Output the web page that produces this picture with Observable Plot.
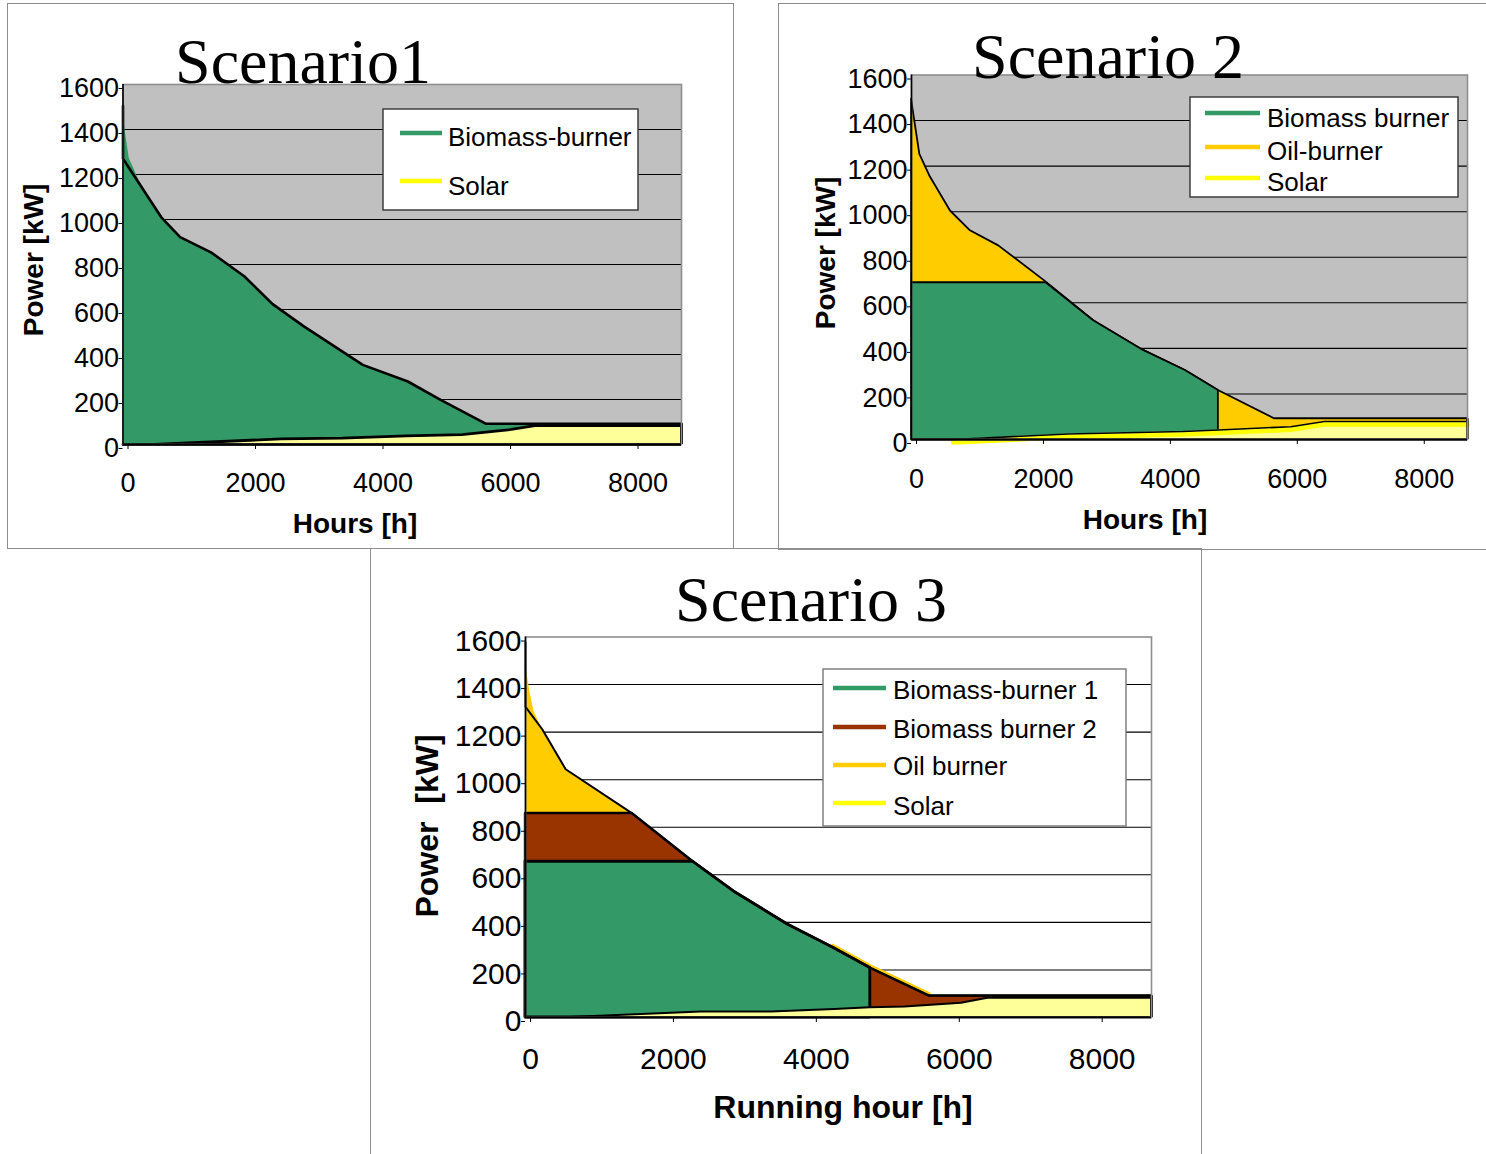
<!DOCTYPE html>
<html><head><meta charset="utf-8">
<script src="https://cdn.jsdelivr.net/npm/d3@7"></script>
<script src="https://cdn.jsdelivr.net/npm/@observablehq/plot@0.6"></script>
<style>
html,body{margin:0;padding:0;background:#fff;}
body{position:relative;width:1486px;height:1154px;overflow:hidden;font-family:"Liberation Sans",Arial,sans-serif;}
.chart{position:absolute;}
.box{position:absolute;box-sizing:border-box;border:1.5px solid #8e8e8e;pointer-events:none;}
#overlay{position:absolute;left:0;top:0;pointer-events:none;}
</style></head><body>
<div class="chart" id="c1" style="left:7px;top:3px"></div>
<div class="chart" id="c2" style="left:778px;top:3px"></div>
<div class="chart" id="c3" style="left:370px;top:549px"></div>
<div class="box" style="left:7px;top:3px;width:727px;height:546px"></div>
<div class="box" style="left:778px;top:3px;width:740px;height:547px"></div>
<div class="box" style="left:370px;top:548px;width:832px;height:640px"></div>
<svg id="overlay" width="1486" height="1154"></svg>
<script>
// ---------- data ----------
const hourTicks = [0, 2000, 4000, 6000, 8000];
const powerTicks = [0, 200, 400, 600, 800, 1000, 1200, 1400, 1600];
const yearHours = 8760;

const titles = ["Scenario1", "Scenario 2", "Scenario 3"];
const yLabels = ["Power [kW]", "Power [kW]", "Power  [kW]"];
const xLabels = ["Hours [h]", "Hours [h]", "Running hour [h]"];

// Scenario 1
const s1DemandHours = [0, 0, 598, 896, 1380, 1901, 2347, 2831, 3761, 4468, 4989, 5695, 8760];
const s1Demand      = [1505, 1270, 1011, 922, 854, 748, 624, 526, 354, 280, 197, 92, 92];
const s1BiomassHours = [0, 30, 100, 250, 598, 896, 1380, 1901, 2347, 2831, 3761, 4468, 4989, 5695, 8760];
const s1Biomass      = [1500, 1400, 1270, 1175, 1011, 922, 854, 748, 624, 526, 354, 280, 197, 92, 92];
const s1SolarHours = [0, 483, 2477, 3438, 4449, 5314, 6039, 6461, 8760];
const s1Solar      = [0, 0, 25, 28, 38, 44, 65, 84, 84];
const s1Legend = ["Biomass-burner", "Solar"];

// Scenario 2
const s2DemandHours = [0, 131, 288, 614, 928, 1374, 2108, 2870, 3654, 4315, 4835, 5717, 8760];
const s2Demand      = [1494, 1252, 1157, 1003, 916, 850, 694, 521, 391, 303, 215, 91, 91];
const s2BiomassHours = [0, 2120, 2870, 3654, 4315, 4835, 4835];
const s2Biomass      = [688, 688, 521, 391, 303, 215, 0];
const s2SolarHours = [0, 655, 2468, 4280, 4835, 5977, 6503, 8760];
const s2Solar      = [0, 0, 24, 35, 42, 56, 79, 79];
const s2Legend = ["Biomass burner", "Oil-burner", "Solar"];

// Scenario 3
const s3DemandHours = [0, 0, 234, 562, 1493, 2341, 2916, 3664, 4300, 4825, 5648, 8760];
const s3Demand      = [1578, 1306, 1212, 1044, 858, 656, 530, 392, 294, 208, 91, 91];
const s3OilHours = [0, 60, 117, 234, 562, 1493, 2341, 2916, 3664, 4300, 4825, 5648, 8760];
const s3Oil      = [1486, 1373, 1289, 1212, 1044, 858, 656, 530, 392, 294, 208, 91, 91];
const s3Biomass2Hours = [0, 1493, 2341, 2916, 3664, 4300, 4825, 5648, 8760];
const s3Biomass2      = [858, 858, 656, 530, 392, 294, 208, 91, 91];
const s3Biomass1Hours = [0, 2341, 2916, 3664, 4300, 4825, 4825];
const s3Biomass1      = [655, 655, 530, 392, 294, 208, 0];
const s3SolarHours = [0, 620, 2460, 3440, 4330, 4825, 5311, 6100, 6470, 8760];
const s3Solar      = [0, 0, 23, 23, 34, 41, 44, 60, 81, 81];
const s3Legend = ["Biomass-burner 1", "Biomass burner 2", "Oil burner", "Solar"];

// ---------- colours ----------
const GREEN = "#339966", OIL = "#FFCC00", BROWN = "#993300", SOLAR_FILL = "#FFFF99", SOLAR_LINE = "#FFFF00", GREYBG = "#C0C0C0";

const series = (hours, values) => hours.map((h, i) => ({h, v: values[i]}));

function panel(o) {
  return Plot.plot({
    width: o.width, height: o.height,
    marginLeft: o.ml, marginRight: o.mr, marginTop: o.mt, marginBottom: o.mb,
    x: {domain: [0, yearHours], axis: null},
    y: {domain: [0, 1600], axis: null},
    style: {fontFamily: "'Liberation Sans', Arial, sans-serif", fontSize: o.font + "px", color: "#000", background: "transparent", overflow: "visible"},
    marks: [
      Plot.frame({fill: o.bg, stroke: "none"}),
      Plot.gridY(powerTicks.filter(d => d > 0 && d < 1600), {stroke: "#000", strokeOpacity: 1, strokeWidth: 1.1}),
      ...o.layers,
      Plot.frame({stroke: "#8e8e8e", strokeWidth: 1.6}),
      Plot.ruleX([0], {stroke: "#000", strokeWidth: 1.6}),
      Plot.ruleY([0], {stroke: "#000", strokeWidth: 1.6}),
      Plot.axisY(powerTicks, {label: null, tickSize: 4, tickPadding: 0, dy: 4, fontSize: o.font, tickFormat: d => String(d)}),
      Plot.axisX(hourTicks, {label: null, tickSize: 5, tickPadding: o.xpad, dx: 5, fontSize: o.font, tickFormat: d => String(d)})
    ]
  });
}

// Scenario 1
{
  const dem = series(s1DemandHours, s1Demand), bio = series(s1BiomassHours, s1Biomass), sol = series(s1SolarHours, s1Solar);
  const chart = panel({width: 727, height: 546, ml: 115.5, mr: 53, mt: 81, mb: 105, bg: GREYBG, font: 27, xpad: 23,
    layers: [
      Plot.areaY(bio, {x: "h", y1: 0, y2: "v", fill: GREEN}),
      Plot.areaY(sol, {x: "h", y1: 0, y2: "v", fill: SOLAR_FILL}),
      Plot.line(dem, {x: "h", y: "v", stroke: "#000", strokeWidth: 2.6}),
      Plot.line(sol, {x: "h", y: "v", stroke: "#000", strokeWidth: 2.8}),
      Plot.ruleX([dem[dem.length - 1]], {x: "h", y1: 0, y2: "v", stroke: "#000", strokeWidth: 3}),
      Plot.ruleY([0], {stroke: "#000", strokeWidth: 3})
    ]});
  document.getElementById("c1").appendChild(chart);
}
// Scenario 2
{
  const dem = series(s2DemandHours, s2Demand), bio = series(s2BiomassHours, s2Biomass), sol = series(s2SolarHours, s2Solar);
  const chart = panel({width: 708, height: 546, ml: 133, mr: 19, mt: 71.5, mb: 110, bg: GREYBG, font: 27, xpad: 24,
    layers: [
      Plot.areaY(dem, {x: "h", y1: 0, y2: "v", fill: OIL, stroke: "#000", strokeWidth: 1.8}),
      Plot.areaY(bio, {x: "h", y1: 0, y2: "v", fill: GREEN, stroke: "#000", strokeWidth: 1.8}),
      Plot.areaY(sol, {x: "h", y1: 0, y2: "v", fill: SOLAR_FILL}),
      Plot.line(sol.slice(1), {x: "h", y: "v", stroke: SOLAR_LINE, strokeWidth: 4.5, dy: 3}),
      Plot.line(sol, {x: "h", y: "v", stroke: "#000", strokeWidth: 1.6}),
      Plot.ruleX([dem[dem.length - 1]], {x: "h", y1: 0, y2: "v", stroke: "#000", strokeWidth: 2.4}),
      Plot.ruleY([0], {stroke: "#000", strokeWidth: 2.4})
    ]});
  document.getElementById("c2").appendChild(chart);
}
// Scenario 3
{
  const dem = series(s3DemandHours, s3Demand), oil = series(s3OilHours, s3Oil),
        b2 = series(s3Biomass2Hours, s3Biomass2), b1 = series(s3Biomass1Hours, s3Biomass1), sol = series(s3SolarHours, s3Solar);
  const chart = panel({width: 832, height: 605, ml: 155, mr: 51, mt: 87.5, mb: 137, bg: "#fff", font: 30, xpad: 25,
    layers: [
      Plot.areaY(oil, {x: "h", y1: 0, y2: "v", fill: OIL}),
      Plot.line(dem.filter(d => d.h >= 4300 && d.h <= 5648), {x: "h", y: "v", stroke: OIL, strokeWidth: 3.5, dy: -2}),
      Plot.areaY(b2, {x: "h", y1: 0, y2: "v", fill: BROWN, stroke: "#000", strokeWidth: 2.4}),
      Plot.areaY(b1, {x: "h", y1: 0, y2: "v", fill: GREEN, stroke: "#000", strokeWidth: 2.8}),
      Plot.areaY(sol, {x: "h", y1: 0, y2: "v", fill: SOLAR_FILL, stroke: "#000", strokeWidth: 2}),
      Plot.line(dem, {x: "h", y: "v", stroke: "#000", strokeWidth: 2}),
      Plot.ruleX([dem[dem.length - 1]], {x: "h", y1: 0, y2: "v", stroke: "#000", strokeWidth: 2.8})
    ]});
  document.getElementById("c3").appendChild(chart);
}

// ---------- overlay: titles, axis labels, legends ----------
const ov = d3.select("#overlay");
const titlePos = [[303, 83], [1108, 78], [811, 621]];
titles.forEach((t, i) => ov.append("text").attr("x", titlePos[i][0]).attr("y", titlePos[i][1])
  .attr("text-anchor", "middle").attr("font-family", "'Liberation Serif','Times New Roman',serif")
  .attr("font-size", 64).text(t));

const yLabPos = [[33, 260, 28], [825, 253, 28], [426, 826, 32]];
yLabels.forEach((t, i) => ov.append("text")
  .attr("transform", `translate(${yLabPos[i][0]},${yLabPos[i][1]}) rotate(-90)`)
  .attr("text-anchor", "middle").attr("dy", "0.36em").attr("font-weight", "bold")
  .attr("font-family", "'Liberation Sans',Arial,sans-serif").attr("font-size", yLabPos[i][2])
  .attr("xml:space", "preserve").text(t));

const xLabPos = [[355, 523, 28], [1145, 519, 28], [843, 1106, 32]];
xLabels.forEach((t, i) => ov.append("text").attr("x", xLabPos[i][0]).attr("y", xLabPos[i][1])
  .attr("dy", "0.36em").attr("text-anchor", "middle").attr("font-weight", "bold")
  .attr("font-family", "'Liberation Sans',Arial,sans-serif").attr("font-size", xLabPos[i][2]).text(t));

function legend(box, items, colors, lineX, lineYs, textX, textYs, stroke) {
  ov.append("rect").attr("x", box[0]).attr("y", box[1]).attr("width", box[2] - box[0]).attr("height", box[3] - box[1])
    .attr("fill", "#fff").attr("stroke", stroke).attr("stroke-width", 1.4);
  items.forEach((t, i) => {
    ov.append("line").attr("x1", lineX[0]).attr("x2", lineX[1]).attr("y1", lineYs[i]).attr("y2", lineYs[i])
      .attr("stroke", colors[i]).attr("stroke-width", 4.5);
    ov.append("text").attr("x", textX).attr("y", textYs[i]).attr("dy", "0.36em")
      .attr("font-family", "'Liberation Sans',Arial,sans-serif").attr("font-size", 26).text(t);
  });
}
legend([383, 109, 638, 210], s1Legend, [GREEN, SOLAR_LINE], [400, 442], [133, 181], 448, [137, 186], "#333");
legend([1190, 97, 1458, 197], s2Legend, [GREEN, OIL, SOLAR_LINE], [1205, 1260], [113, 147, 178], 1267, [118, 151, 182], "#333");
legend([823, 669, 1126, 826], s3Legend, [GREEN, BROWN, OIL, SOLAR_LINE], [833, 886], [688, 727, 765, 803], 893, [690, 729, 766, 806], "#777");
</script>
</body></html>
